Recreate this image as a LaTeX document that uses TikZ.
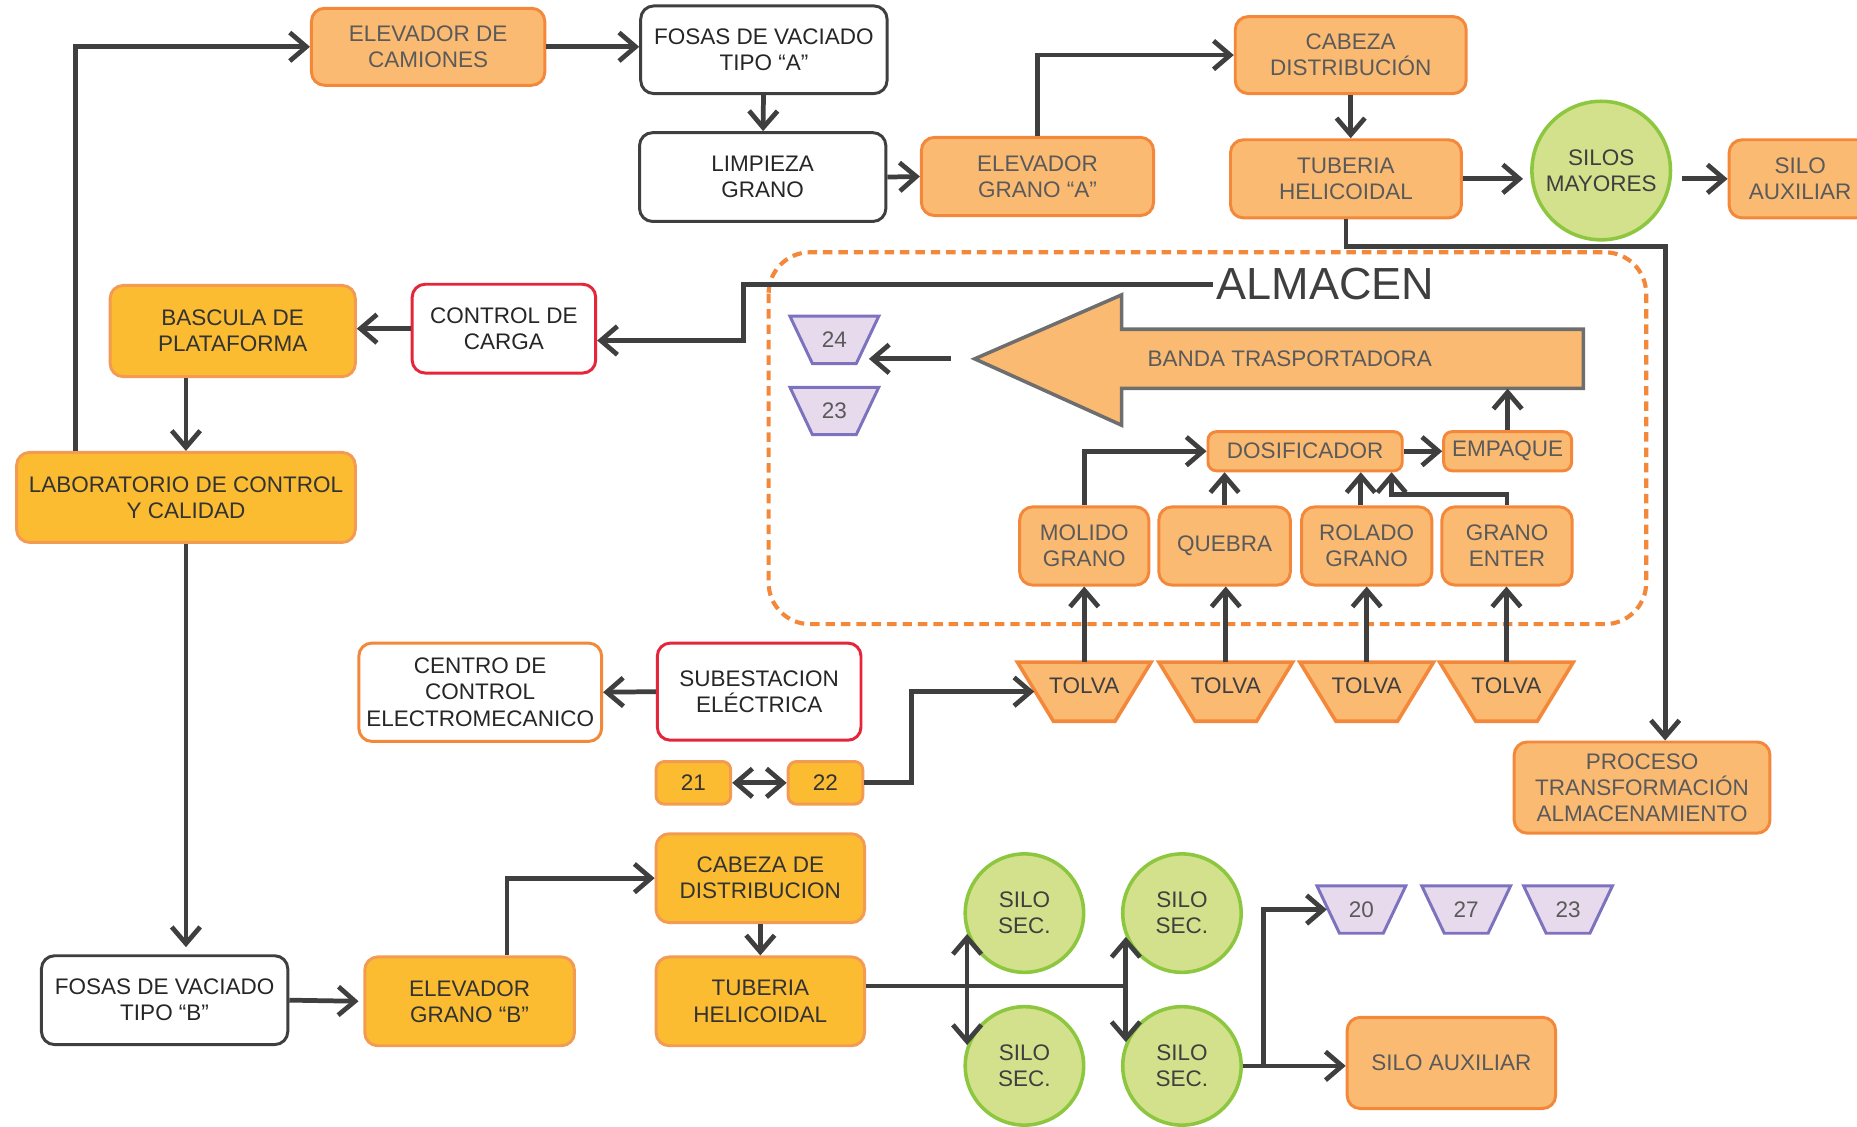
\documentclass[tikz,border=0pt]{standalone}
\usepackage{fontspec}
\setmainfont{Liberation Sans}
\usetikzlibrary{positioning,arrows.meta,calc,shapes.geometric}
\definecolor{granorange}{HTML}{FBBA72}
\definecolor{granedge}{HTML}{F3883A}
\definecolor{granyellow}{HTML}{FBBC32}
\definecolor{granyedge}{HTML}{F39B52}
\definecolor{granred}{HTML}{E4253A}
\definecolor{grangreen}{HTML}{D3E18C}
\definecolor{grangedge}{HTML}{8DC63F}
\definecolor{granlilac}{HTML}{E6DAEC}
\definecolor{granpurple}{HTML}{7C72BD}
\definecolor{granink}{HTML}{3F3F3F}
\definecolor{granmute}{HTML}{5A5A5A}
\definecolor{granbelt}{HTML}{6E6E6E}

\begin{document}
\begin{tikzpicture}[x=1pt, y=-1pt,
  font=\fontsize{19}{22}\selectfont,
  box/.style={rounded corners=11pt, align=center, line width=2.5pt, inner sep=2pt},
  lor/.style={box, draw=granedge, fill=granorange, text=granmute},
  ylw/.style={box, draw=granyedge, fill=granyellow, text=black!80},
  wht/.style={box, draw=granink, fill=white, text=black!85},
  redbox/.style={box, draw=granred, fill=white, text=black!85},
  cenbox/.style={box, draw=granedge, fill=white, text=black!85},
  small/.style={rounded corners=7pt},
  silo/.style={circle, draw=grangedge, fill=grangreen, line width=3pt, align=center, inner sep=0pt, text=granink},
  hop/.style={draw=granedge, fill=granorange, line width=3pt},
  tag/.style={draw=granpurple, fill=granlilac, line width=2.5pt},
  tolva/.style={inner sep=0pt, minimum width=84pt, minimum height=50pt, text depth=10pt, text=granink},
  tagtxt/.style={inner sep=0pt, minimum width=58pt, minimum height=40pt, text=granmute},
  arr/.style={-{Straight Barb[length=14pt, width=24pt]}, line width=4pt, draw=granink},
  darr/.style={{Straight Barb[length=14pt, width=24pt]}-{Straight Barb[length=14pt, width=24pt]}, line width=4pt, draw=granink},
  lin/.style={line width=4pt, draw=granink}
]
\useasboundingbox (0,0) rectangle (1568,951);

\draw[granedge, line width=3.5pt, dash pattern=on 8pt off 5pt, rounded corners=35pt] (649,213) rectangle (1390,527);

\node[lor, minimum width=197pt, minimum height=65pt] (elevc) at (361.5,39.5) {ELEVADOR DE\\CAMIONES};
\node[wht, minimum width=208pt, minimum height=74pt] (fosA) at (645,42) {FOSAS DE VACIADO\\TIPO “A”};
\node[wht, minimum width=208pt, minimum height=75pt] (limp) at (644,149.5) {LIMPIEZA\\GRANO};
\node[lor, minimum width=196pt, minimum height=66pt] (elevA) at (876,149) {ELEVADOR\\GRANO “A”};
\node[lor, minimum width=195pt, minimum height=65pt] (cab) at (1140.5,46.5) {CABEZA\\DISTRIBUCIÓN};
\node[lor, minimum width=195pt, minimum height=66pt] (tub) at (1136.5,151) {TUBERIA\\HELICOIDAL};
\node[silo, minimum size=117pt] (silos) at (1352,144) {SILOS\\MAYORES};
\node[lor, minimum width=120pt, minimum height=66pt] (auxA) at (1520,151) {SILO\\AUXILIAR};

\node[redbox, minimum width=155pt, minimum height=75pt] (ctrl) at (425.5,277.5) {CONTROL DE\\CARGA};
\node[ylw, minimum width=207pt, minimum height=77pt] (basc) at (196.5,279.5) {BASCULA DE\\PLATAFORMA};
\node[ylw, minimum width=286pt, minimum height=76pt] (lab) at (157,420) {LABORATORIO DE CONTROL\\Y CALIDAD};

\node[font=\fontsize{38}{40}\selectfont, text=granink, inner sep=3pt] (almacen) at (1119,240) {ALMACEN};
\filldraw[draw=granbelt, fill=granorange, line width=3pt] (823,303) -- (947,249) -- (947,278) -- (1337,278) -- (1337,328) -- (947,328) -- (947,359) -- cycle;
\coordinate (bandatip) at (823,303);
\node[minimum height=50pt, text=granmute] (banda) at (1089,303) {BANDA TRASPORTADORA};
\filldraw[tag] (704.5,287) ++(-37.5,-20) -- ++(75,0) -- ++(-19,40) -- ++(-37,0) -- cycle;
\node[tagtxt] (t24) at (704.5,287) {24};
\filldraw[tag] (704.5,347) ++(-37.5,-20) -- ++(75,0) -- ++(-19,40) -- ++(-37,0) -- cycle;
\node[tagtxt] (t23) at (704.5,347) {23};
\node[lor, small, minimum width=164pt, minimum height=33pt] (dos) at (1102,381) {DOSIFICADOR};
\node[lor, small, minimum width=108pt, minimum height=33pt] (emp) at (1273,381) {EMPAQUE};
\node[lor, minimum width=109pt, minimum height=66pt] (mol) at (915.5,461) {MOLIDO\\GRANO};
\node[lor, minimum width=111pt, minimum height=66pt] (queb) at (1034,461) {QUEBRA};
\node[lor, minimum width=110pt, minimum height=66pt] (rol) at (1154,461) {ROLADO\\GRANO};
\node[lor, minimum width=110pt, minimum height=66pt] (ent) at (1272.5,461) {GRANO\\ENTER};

\filldraw[hop] (915.5,584) ++(-56.5,-25) -- ++(113,0) -- ++(-30.5,50) -- ++(-52,0) -- cycle;
\node[tolva] (tol1) at (915.5,584) {TOLVA};
\filldraw[hop] (1035,584) ++(-56.5,-25) -- ++(113,0) -- ++(-30.5,50) -- ++(-52,0) -- cycle;
\node[tolva] (tol2) at (1035,584) {TOLVA};
\filldraw[hop] (1154,584) ++(-56.5,-25) -- ++(113,0) -- ++(-30.5,50) -- ++(-52,0) -- cycle;
\node[tolva] (tol3) at (1154,584) {TOLVA};
\filldraw[hop] (1272,584) ++(-56.5,-25) -- ++(113,0) -- ++(-30.5,50) -- ++(-52,0) -- cycle;
\node[tolva] (tol4) at (1272,584) {TOLVA};

\node[cenbox, minimum width=205pt, minimum height=83pt] (cen) at (405.5,584.5) {CENTRO DE\\CONTROL\\ELECTROMECANICO};
\node[redbox, minimum width=172pt, minimum height=82pt] (sub) at (641,584) {SUBESTACION\\ELÉCTRICA};
\node[ylw, small, minimum width=63pt, minimum height=36pt] (n21) at (585.5,661) {21};
\node[ylw, small, minimum width=63pt, minimum height=36pt] (n22) at (697,661) {22};
\node[lor, minimum width=216pt, minimum height=77pt] (proc) at (1386.5,665) {PROCESO\\TRANSFORMACIÓN\\ALMACENAMIENTO};

\node[wht, minimum width=208pt, minimum height=75pt] (fosB) at (139,844.5) {FOSAS DE VACIADO\\TIPO “B”};
\node[ylw, minimum width=177pt, minimum height=75pt] (elevB) at (396.5,845.5) {ELEVADOR\\GRANO “B”};
\node[ylw, minimum width=176pt, minimum height=75pt] (cabB) at (642,741.5) {CABEZA DE\\DISTRIBUCION};
\node[ylw, minimum width=176pt, minimum height=75pt] (tubB) at (642,845.5) {TUBERIA\\HELICOIDAL};
\node[silo, minimum size=100pt] (silo1) at (865,771) {SILO\\SEC.};
\node[silo, minimum size=100pt] (silo2) at (998,771) {SILO\\SEC.};
\node[silo, minimum size=100pt] (silo3) at (865,900) {SILO\\SEC.};
\node[silo, minimum size=100pt] (silo4) at (998,900) {SILO\\SEC.};
\filldraw[tag] (1149.5,768) ++(-37.5,-20) -- ++(75,0) -- ++(-19,40) -- ++(-37,0) -- cycle;
\node[tagtxt] (t20) at (1149.5,768) {20};
\filldraw[tag] (1238,768) ++(-37.5,-20) -- ++(75,0) -- ++(-19,40) -- ++(-37,0) -- cycle;
\node[tagtxt] (t27) at (1238,768) {27};
\filldraw[tag] (1324,768) ++(-37.5,-20) -- ++(75,0) -- ++(-19,40) -- ++(-37,0) -- cycle;
\node[tagtxt] (t23b) at (1324,768) {23};
\node[lor, minimum width=176pt, minimum height=77pt] (auxB) at (1225.5,897.5) {SILO AUXILIAR};

\draw[arr] ([xshift=51pt]lab.north west) |- (elevc.west);
\draw[arr] (elevc.east) -- (elevc.east -| fosA.west);
\draw[arr] (fosA) -- (limp);
\draw[arr] (limp.east) -- (elevA.west);
\draw[arr] (elevA.north) |- (cab.west);
\draw[arr] (cab.south) -- (cab.south |- tub.north);
\draw[arr, shorten >=6pt] (tub.east) -- (tub.east -| silos.west);
\draw[arr, shorten <=8pt] (silos.east |- auxA.west) -- (auxA.west);
\draw[arr] (tub.south) -- ++(0,23) -| ([xshift=19.5pt]proc.north);

\draw[arr] (almacen.west) -- ++(-396,0) |- ([yshift=-10pt]ctrl.east);
\draw[arr] (ctrl.west) -- (ctrl.west -| basc.east);
\draw[arr] (basc.south -| lab.north) -- (lab.north);
\draw[arr, shorten >=6pt] (lab.south) -- (lab.south |- fosB.north);
\draw[arr, shorten >=4pt] (fosB.east) -- (elevB.west);
\draw[arr] ([xshift=31.5pt]elevB.north) |- (cabB.west);
\draw[arr] (cabB) -- (tubB);

\coordinate (busB) at ([yshift=13pt]tubB.east);
\draw[lin] (busB) -- (busB -| silo4.157);
\draw[arr] (busB -| silo1.200) -- (silo1.200);
\draw[arr] (busB -| silo3.160) -- (silo3.160);
\draw[arr] (busB -| silo2.203) -- (silo2.203);
\draw[arr] (busB -| silo4.157) -- (silo4.157);
\coordinate (sp) at ($(silo4.east)!0.2!(auxB.west)$);
\draw[arr] (silo4.east) -- (silo4.east -| auxB.west);
\draw[arr] (sp) |- (t20.west);

\draw[arr] (sub.west) -- (cen.east);
\draw[darr] (n21) -- (n22);
\draw[arr] (n22.east) -- ++(40,0) |- (tol1.west);

\draw[arr] (tol1.north) -- (tol1.north |- mol.south);
\draw[arr] (tol2.north) -- (tol2.north |- queb.south);
\draw[arr] (tol3.north) -- (tol3.north |- rol.south);
\draw[arr] (tol4.north) -- (tol4.north |- ent.south);
\draw[arr] (mol.north) |- (dos.west);
\draw[arr] (queb.north) -- (queb.north |- dos.south);
\draw[arr] ([xshift=-5pt]rol.north) -- ([xshift=-5pt]rol.north |- dos.south);
\draw[arr] (ent.north) -- ++(0,-9) -| ([xshift=73pt]dos.south);
\draw[arr] (dos.east) -- (emp.west);
\draw[arr] (emp.north) -- (emp.north |- banda.south);
\draw[arr] ([xshift=-20pt]bandatip) -- (bandatip -| t24.east);
\end{tikzpicture}
\end{document}
